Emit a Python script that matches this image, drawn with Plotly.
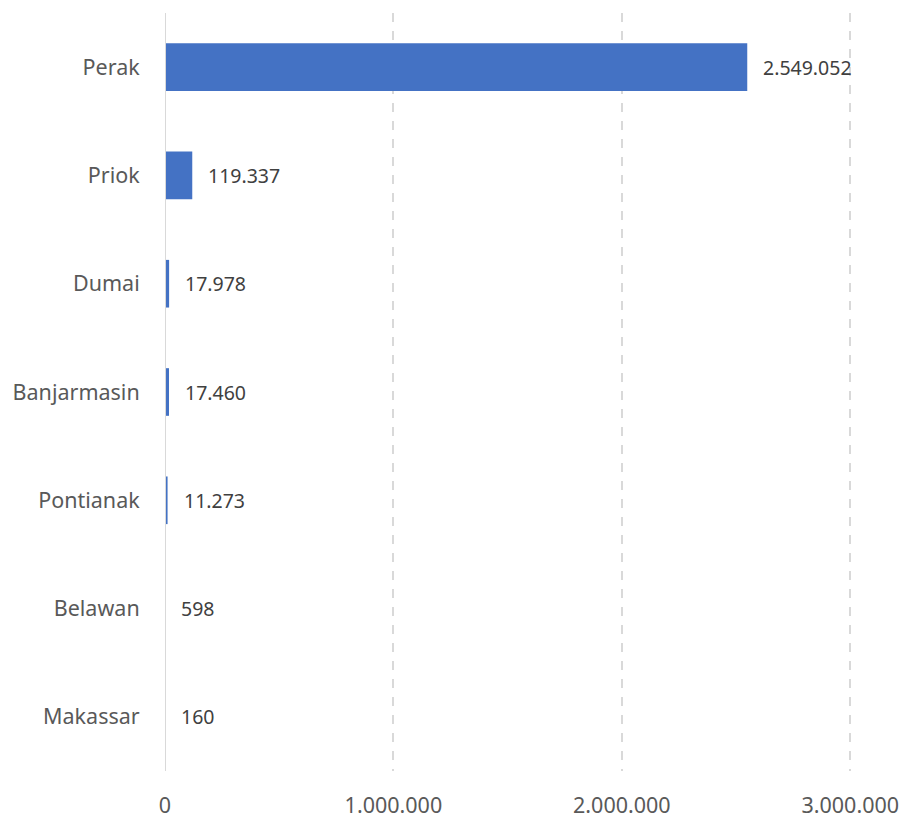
# horizontal bar chart of volume per port
from plotly.graph_objects import Figure, Bar

ports = ['Perak', 'Priok', 'Dumai', 'Banjarmasin', 'Pontianak', 'Belawan', 'Makassar']
volumes = [2549052, 119337, 17978, 17460, 11273, 598, 160]
tick_vals = [0, 1000000, 2000000, 3000000]
tick_text = ['0', '1.000.000', '2.000.000', '3.000.000']

def fmt(v):
    return f'{v:,}'.replace(',', '.')

font_family = 'Segoe UI, Noto Sans, Open Sans, sans-serif'

## init figure
fig = Figure()
fig.add_trace(Bar(
    x=volumes, y=ports, orientation='h',
    marker=dict(color='#4472C4', line=dict(width=0)),
    hoverinfo='x+y',
))

## value labels
for p, v in zip(ports, volumes):
    fig.add_annotation(
        x=v, y=p, text=fmt(v), showarrow=False,
        xanchor='left', xshift=14,
        font=dict(family=font_family, size=19.5, color='#404040'),
    )

## layout
fig.update_layout(dict(
    width=903, height=820,
    margin=dict(l=165, r=50, t=13, b=49),
    paper_bgcolor='white', plot_bgcolor='white',
    bargap=0.56,
    showlegend=False,
    font=dict(family=font_family, size=21.5, color='#595959'),
    xaxis=dict(
        range=[0, 3012000],
        tickvals=tick_vals, ticktext=tick_text,
        showgrid=True, gridcolor='#d9d9d9', griddash='dash', gridwidth=1.5,
        zeroline=False, showline=False, automargin=False,
        ticks='outside', ticklen=15, tickcolor='rgba(0,0,0,0)',
    ),
    yaxis=dict(
        autorange='reversed', automargin=False,
        showgrid=False, zeroline=False,
        ticks='outside', ticklen=20, tickcolor='rgba(0,0,0,0)',
    ),
))

## zero axis line
fig.add_shape(type='line', xref='x', yref='paper', x0=0, x1=0, y0=0, y1=1,
              line=dict(color='#d9d9d9', width=2))

## drop the page margin so the figure fills the window
fig.write_html('out.html', config=dict(displayModeBar=False),
               post_script="document.body.style.margin='0';")
